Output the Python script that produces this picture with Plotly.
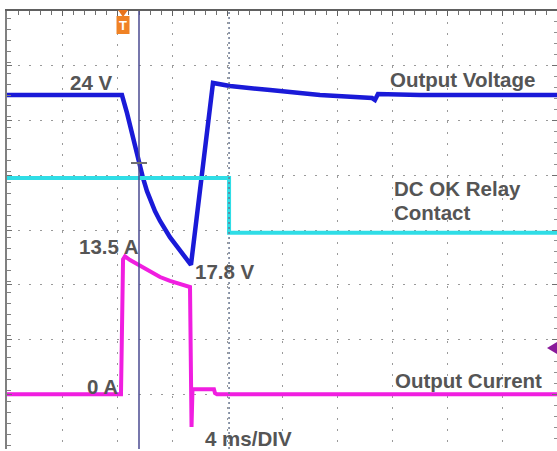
import plotly.graph_objects as go

# ---- data (time in ms from screen left, 4 ms/div) ----
volt_t = [0, 8.36, 8.73, 9.02, 9.31, 9.6, 9.89, 10.18, 10.47, 10.76, 11.13, 11.49, 11.85,
          12.22, 12.58, 12.95, 13.38,
          14.98, 16.22, 19.13, 22.76, 26.55, 26.76, 26.98, 30.04, 40]
volt_v = [24.0, 24.0, 23.34, 22.72, 22.1, 21.52, 20.97, 20.49, 20.09, 19.76, 19.4, 19.07, 18.81,
          18.56, 18.34, 18.12, 17.8,
          24.44, 24.33, 24.18, 24.0, 23.89, 23.82, 24.04, 24.0, 24.0]

curr_t = [0, 8.29, 8.44, 8.58, 8.95, 9.31, 9.67, 10.4, 11.13, 11.85, 12.58, 13.31,
          13.42, 13.49, 15.05, 15.13, 15.27, 40]
curr_a = [0, 0, 13.2, 13.5, 13.14, 12.85, 12.55, 11.97, 11.48, 11.09, 10.8, 10.5,
          -3.2, 0.5, 0.5, 0.1, 0, 0]

relay_t = [0, 16.15, 16.15, 40]
relay_s = [1, 1, 0, 0]

labels = ["24 V", "Output Voltage", "DC OK Relay", "Contact", "13.5 A", "17.8 V",
          "0 A", "Output Current", "4 ms/DIV"]

W, H = 557, 451
L, T, R, B = 7, 11, 0, 2
PW, PH = W - L - R, H - T - B


def px(x):
    return (x - L) / PW


def py(y):
    return 1 - (y - T) / PH


fig = go.Figure()
fig.add_trace(go.Scatter(x=relay_t, y=relay_s, yaxis="y3", mode="lines",
                         line=dict(color="#2fdde6", width=4), hoverinfo="skip"))
fig.add_trace(go.Scatter(x=curr_t, y=curr_a, yaxis="y2", mode="lines",
                         line=dict(color="#f01ee0", width=4), hoverinfo="skip"))
fig.add_trace(go.Scatter(x=volt_t, y=volt_v, yaxis="y", mode="lines",
                         line=dict(color="#1a1ad8", width=4.5), hoverinfo="skip"))

grid = dict(showgrid=True, gridcolor="#9a9a9a", gridwidth=1, griddash="2px,9px",
            zeroline=False, showticklabels=False)

fig.update_layout(
    width=W, height=H, margin=dict(l=L, r=R, t=T, b=B),
    paper_bgcolor="white", plot_bgcolor="white", showlegend=False,
    xaxis=dict(range=[0, 40], tick0=0, dtick=4, side="top", showline=True,
               linecolor="#606060", linewidth=2, ticks="inside", ticklen=5, tickcolor="#606060",
               minor=dict(dtick=0.8, ticks="inside", ticklen=4, tickcolor="#707070", showgrid=False),
               **grid),
    yaxis=dict(range=[11.07, 27.07], tick0=11.07, dtick=2, side="left", showline=True,
               linecolor="#808080", linewidth=2, ticks="inside", ticklen=5, tickcolor="#707070",
               minor=dict(dtick=0.4, ticks="inside", ticklen=4, tickcolor="#808080", showgrid=False),
               **grid),
    yaxis2=dict(range=[-5.36, 37.52], tick0=-5.36, dtick=5.36, overlaying="y", side="right",
                showgrid=False, zeroline=False, showticklabels=False, showline=True,
                linecolor="#909090", linewidth=1, ticks="inside", ticklen=5, tickcolor="#707070",
                minor=dict(dtick=1.072, ticks="inside", ticklen=3, tickcolor="#909090")),
    yaxis3=dict(range=[-3.95, 4.05], overlaying="y", visible=False),
)

shapes = []
# second cursor / marker dotted line at relay transition
shapes.append(dict(type="line", xref="x", yref="paper", x0=16.15, x1=16.15, y0=0, y1=1,
                   line=dict(color="#6a7890", width=1.5, dash="2px,3px")))
# vertical cursor
shapes.append(dict(type="line", xref="x", yref="paper", x0=9.6, x1=9.6, y0=0, y1=1,
                   line=dict(color="#4a4a90", width=1.5)))
# cursor crosshair
shapes.append(dict(type="line", xref="paper", yref="paper", x0=px(131), x1=px(147),
                   y0=py(163), y1=py(163), line=dict(color="#707070", width=2)))
# trigger marker
shapes.append(dict(type="path", xref="paper", yref="paper",
                   path=f"M {px(118)} {py(10)} L {px(128)} {py(10)} L {px(123)} {py(17)} Z",
                   fillcolor="#e8741c", line=dict(width=0)))
shapes.append(dict(type="rect", xref="paper", yref="paper", x0=px(116.5), x1=px(129.5),
                   y0=py(34), y1=py(16), fillcolor="#f08224", line=dict(width=0)))
# channel ground arrow (right)
shapes.append(dict(type="path", xref="paper", yref="paper",
                   path=f"M {px(547)} {py(348)} L {px(557)} {py(342)} L {px(557)} {py(354)} Z",
                   fillcolor="#8a1a9a", line=dict(width=0)))
fig.update_layout(shapes=shapes)

ann_pos = [(68, 82), (388, 80), (392, 189), (392, 213), (77, 246), (193, 271),
           (85, 386), (393, 380), (203, 438)]
annotations = []
for text, (x, y) in zip(labels, ann_pos):
    annotations.append(dict(text=f"<b>{text}</b>", xref="paper", yref="paper",
                            x=px(x), y=py(y), xanchor="left", yanchor="middle",
                            showarrow=False,
                            font=dict(family="Liberation Sans, Arial", size=20.5, color="#555555")))
annotations.append(dict(text="<b>T</b>", xref="paper", yref="paper", x=px(123), y=py(25),
                        xanchor="center", yanchor="middle", showarrow=False,
                        font=dict(family="Liberation Sans, Arial", size=13, color="white")))
fig.update_layout(annotations=annotations)

fig.write_html("out.html", config={"displayModeBar": False},
               post_script="document.body.style.margin='0';document.body.style.overflow='hidden';")
